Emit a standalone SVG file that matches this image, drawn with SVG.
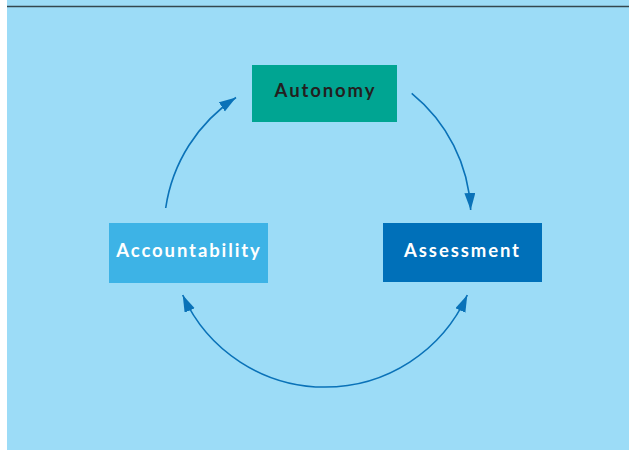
<svg xmlns="http://www.w3.org/2000/svg" width="629" height="450" viewBox="0 0 629 450">
  <defs>
    <style>
      .lbl { font-family: Lato, "Open Sans", "DejaVu Sans", sans-serif; font-weight: bold; font-size: 18.5px; letter-spacing: 1.9px; text-anchor: middle; }
      .conn { fill: none; stroke: #0a72b8; stroke-width: 1.6; }
    </style>
    <marker id="ah" markerUnits="userSpaceOnUse" markerWidth="18" markerHeight="12" refX="17" refY="5.5" orient="auto-start-reverse">
      <path d="M0,0 L17,5.5 L0,11 Z" fill="#0a72b8"/>
    </marker>
  </defs>
  <rect x="0" y="0" width="629" height="450" fill="#ffffff"/>
  <rect x="7" y="0" width="622" height="450" fill="#9cdcf7"/>
  <line x1="7" y1="6.5" x2="629" y2="6.5" stroke="#34474f" stroke-width="1.5"/>
  <g id="connectors">
    <path class="conn" d="M165.7,208 A160,160 0 0 1 236,97.5" marker-end="url(#ah)"/>
    <path class="conn" d="M411.7,93.3 A160,160 0 0 1 470.7,210" marker-end="url(#ah)"/>
    <path class="conn" d="M182.7,295 A156,156 0 0 0 467.3,295" marker-start="url(#ah)" marker-end="url(#ah)"/>
  </g>
  <g id="autonomy">
    <rect x="252" y="65" width="145" height="57" fill="#00a592"/>
    <text class="lbl" x="325.5" y="97" fill="#231f20">Autonomy</text>
  </g>
  <g id="accountability">
    <rect x="109" y="223" width="159" height="60" fill="#3db3e6"/>
    <text class="lbl" x="189" y="257.3" fill="#ffffff">Accountability</text>
  </g>
  <g id="assessment">
    <rect x="383" y="223" width="159" height="59" fill="#0070b9"/>
    <text class="lbl" x="462.5" y="256.7" fill="#ffffff">Assessment</text>
  </g>
</svg>
